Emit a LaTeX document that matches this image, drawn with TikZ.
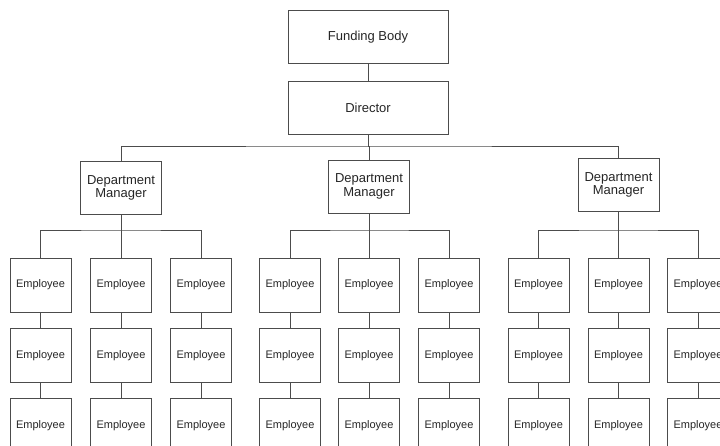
\documentclass[tikz,border=0pt]{standalone}
\usepackage{fontspec}
\setmainfont{Liberation Sans}
\begin{document}
\begin{tikzpicture}[x=1pt,y=-1pt,
  box/.style={draw=black!70, line width=0.8pt, fill=white, inner sep=0pt, align=center, text=black!85},
  bigbox/.style={box, minimum width=160pt, minimum height=53pt, font=\fontsize{13}{13.5}\selectfont},
  mgrbox/.style={box, minimum width=81pt, minimum height=53pt, font=\fontsize{13}{13.5}\selectfont},
  empbox/.style={box, minimum width=61pt, minimum height=54pt, font=\fontsize{11}{12}\selectfont},
  link/.style={draw=black!70, line width=0.8pt}]
\useasboundingbox (0,0) rectangle (720,446);
\clip (0,0) rectangle (720,446);
\fill[white] (0,0) rectangle (720,446);
% top
\node[bigbox] (fb) at (368,37) {Funding Body};
\node[bigbox] (dir) at (368,107.5) {Director};
\node[mgrbox] (dm1) at (121,188) {Department\\Manager};
\node[mgrbox] (dm2) at (369,186.5) {Department\\Manager};
\node[mgrbox] (dm3) at (618.5,185) {Department\\Manager};
% employees
\foreach \g/\xa/\xb/\xc in {1/40.5/121/201, 2/290/369/449, 3/538.5/618.5/698}{
  \foreach \r/\y in {1/285, 2/355.5, 3/425.5}{
    \node[empbox] (e\g\r a) at (\xa,\y) {Employee};
    \node[empbox] (e\g\r b) at (\xb,\y) {Employee};
    \node[empbox] (e\g\r c) at (\xc,\y) {Employee};
  }
}
% connectors
\draw[link] (fb) -- (dir);
\coordinate (bus) at (368,146);
\draw[link] (dir.south) -- (bus);
\draw[link] (dm1.north) |- (bus) -| (dm3.north);
\draw[link] (bus) -| (dm2.north);
\foreach \g in {1,2,3}{
  \coordinate (br\g) at (dm\g.south |- {(0,230)});
  \draw[link] (dm\g.south) -- (br\g);
  \draw[link] (e\g1a.north) |- (br\g) -| (e\g1c.north);
  \draw[link] (br\g) -- (e\g1b.north);
  \foreach \c in {a,b,c}{
    \draw[link] (e\g1\c) -- (e\g2\c);
    \draw[link] (e\g2\c) -- (e\g3\c);
  }
}
\end{tikzpicture}
\end{document}
